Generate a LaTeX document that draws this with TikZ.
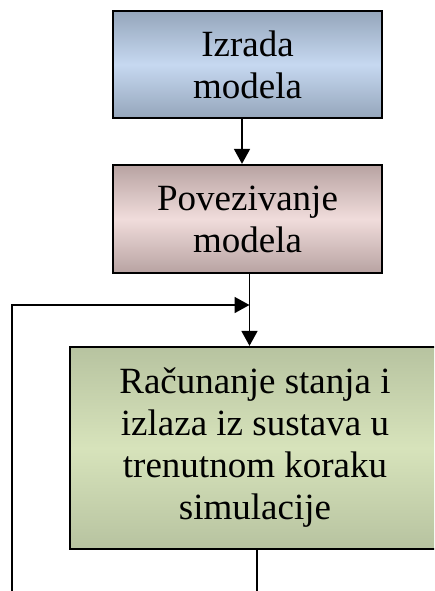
\documentclass[tikz,border=0pt]{standalone}
\usepackage{fontspec}
\setmainfont{Liberation Serif}
\usetikzlibrary{arrows.meta}
\definecolor{blueedge}{HTML}{95A6BB}
\definecolor{bluemid}{HTML}{C6D8F0}
\definecolor{rosedge}{HTML}{B8A3A2}
\definecolor{rosmid}{HTML}{F0DCDB}
\definecolor{grnedge}{HTML}{B7C3A0}
\definecolor{grnmid}{HTML}{D7E3BB}
\tikzset{
  boxbase/.style={draw=black, line width=2.3pt, inner sep=0pt, align=center,
    font=\fontsize{37}{42}\selectfont},
  bluebox/.style={boxbase, top color=blueedge, bottom color=blueedge, middle color=bluemid},
  rosebox/.style={boxbase, top color=rosedge, bottom color=rosedge, middle color=rosmid},
  greenbox/.style={boxbase, top color=grnedge, bottom color=grnedge, middle color=grnmid},
  conn/.style={line width=1.8pt, draw=black},
  arr/.style={conn, -{Triangle[length=15pt,width=16pt]}},
}
\begin{document}
\begin{tikzpicture}[x=1pt,y=-1pt]
\useasboundingbox (0,0) rectangle (434,591);
\clip (0,0) rectangle (434,591);
\node[bluebox, minimum width=269pt, minimum height=107pt] (b1) at (247.5,64.5) {Izrada\\modela};
\node[rosebox, minimum width=269pt, minimum height=108pt] (b2) at (247.5,219) {Povezivanje\\modela};
\node[greenbox, minimum width=370pt, minimum height=202pt] (b3) at (255,448) {Računanje stanja i\\izlaza iz sustava u\\trenutnom koraku\\simulacije};
\coordinate (m) at (249.5,305);
\coordinate (fbstart) at (12,600);
\coordinate (outend) at (257,600);
\draw[arr] ([xshift=-5.5pt]b1.south) -- ([xshift=-5.5pt]b2.north);
\draw[conn] ([xshift=2pt]b2.south) -- (m);
\draw[arr] (m) -- ([xshift=-5.5pt]b3.north);
\draw[arr] (fbstart) |- (m);
\draw[conn] ([xshift=2pt]b3.south) -- (outend);
\end{tikzpicture}
\end{document}
